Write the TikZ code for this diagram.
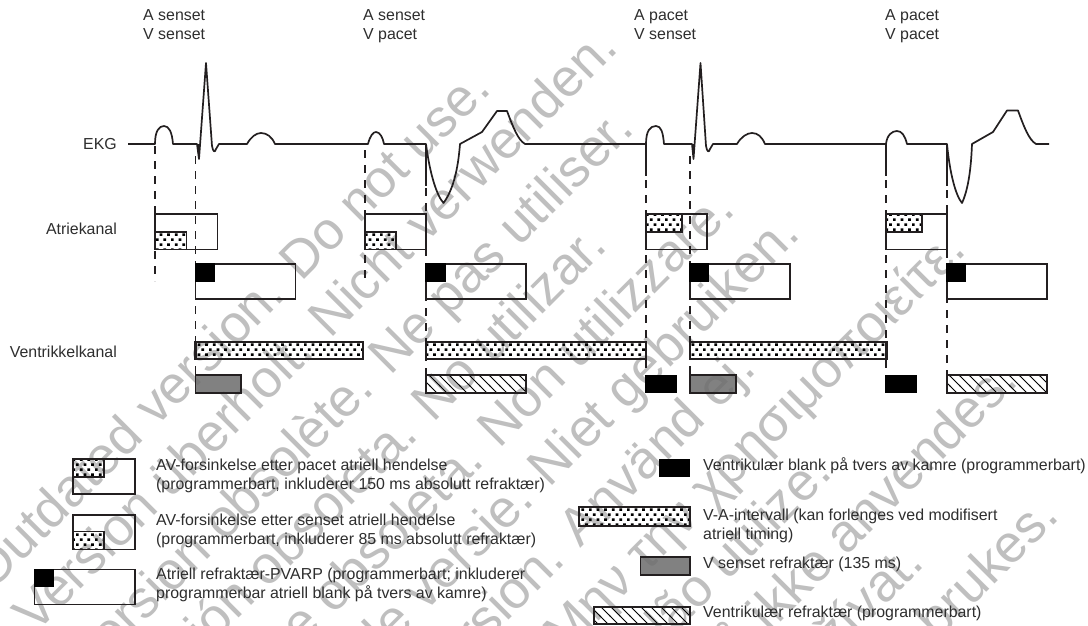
\documentclass[tikz,border=0pt]{standalone}
\usepackage{fontspec}
\setmainfont{Liberation Sans}
\usetikzlibrary{patterns}
\definecolor{ink}{HTML}{231F20}
\definecolor{txt}{HTML}{2E2E2E}
\definecolor{wmgray}{HTML}{BFBFBF}
\pgfdeclarepatternformonly{stip}{\pgfqpoint{-1pt}{-1pt}}{\pgfqpoint{7pt}{10pt}}{\pgfqpoint{7.6pt}{10pt}}{
  \pgfpathrectangle{\pgfqpoint{0pt}{0pt}}{\pgfqpoint{2.7pt}{2.7pt}}
  \pgfpathrectangle{\pgfqpoint{3.8pt}{5pt}}{\pgfqpoint{2.7pt}{2.7pt}}
  \pgfusepath{fill}}
\pgfdeclarepatternformonly{hatchlines}{\pgfqpoint{-1pt}{-1pt}}{\pgfqpoint{11pt}{11pt}}{\pgfqpoint{10pt}{10pt}}{
  \pgfsetlinewidth{0.8pt}
  \pgfpathmoveto{\pgfqpoint{-1pt}{11pt}}
  \pgfpathlineto{\pgfqpoint{11pt}{-1pt}}
  \pgfusepath{stroke}}
\tikzset{
  ecg/.style={line width=1.7pt,draw=ink,line join=round},
  guide/.style={line width=1.2pt,draw=ink,dash pattern=on 8pt off 7pt},
  box/.style={line width=1.2pt,draw=ink},
  stipbox/.style={line width=1.9pt,draw=ink,pattern=stip,pattern color=black},
  bar/.style={line width=2.1pt,draw=ink,pattern=stip,pattern color=black},
  graybar/.style={line width=1.6pt,draw=ink,fill=gray!85!black,fill opacity=.85},
  hatchbar/.style={line width=1.4pt,draw=ink,pattern=hatchlines,pattern color=black},
  solidblock/.style={fill=black,draw=none},
  lbl/.style={font=\fontsize{15.9}{19.2}\selectfont,text=txt,inner sep=0pt,align=left},
  wmark/.style={font=\fontsize{53}{53}\selectfont,text=wmgray,inner sep=0pt,rotate=45,anchor=base east},
}
\begin{document}
\begin{tikzpicture}[x=1pt,y=-1pt]
\useasboundingbox (0,0) rectangle (1088,626);
\fill[white] (0,0) rectangle (1088,626);
\begin{scope}
\clip (0,0) rectangle (1088,626);
\node[wmark] (w1) at (493,91) {Outdated version. Do not use.};
\node[wmark] (w2) at (620,50) {Version überholt. Nicht verwenden.};
\node[wmark] (w3) at (636,131) {Version obsolète. Ne pas utiliser.};
\node[wmark] (w4) at (609,248) {Versión obsoleta. No utilizar.};
\node[wmark] (w5) at (737,212) {Versione obsoleta. Non utilizzare.};
\node[wmark] (w6) at (802,236) {Verouderde versie. Niet gebruiken.};
\node[wmark] (w7) at (758,371) {Föråldrad version. Använd ej.};
\node[wmark] (w8) at (968,252) {Παλιά έκδοση. Μην την χρησιμοποιείτε.};
\node[wmark] (w9) at (834,475) {Versão obsoleta. Não utilize.};
\node[wmark] (w10) at (1020,383) {Forældet version. Må ikke anvendes.};
\node[wmark] (w11) at (1061,518) {Utdatert versjon. Skal ikke brukes.};
\node[wmark] (w12) at (926,565) {Zastaralá verze. Nepoužívat.};
\end{scope}

% guides
\coordinate (g1a) at (155,146); \coordinate (g1b) at (155,281);
\coordinate (g2a) at (195.5,156); \coordinate (g2b) at (195.5,375);
\coordinate (g3a) at (365,150); \coordinate (g3b) at (365,281);
\coordinate (g4a) at (426,188); \coordinate (g4b) at (426,375);
\coordinate (g5a) at (646,180); \coordinate (g5b) at (646,375);
\coordinate (g6a) at (690,156); \coordinate (g6b) at (690,375);
\coordinate (g7a) at (886,180); \coordinate (g7b) at (886,375);
\coordinate (g8a) at (947,190); \coordinate (g8b) at (947,375);
\foreach \g in {1,...,8} \draw[guide] (g\g a) -- (g\g b);

% ECG
\draw[ecg] (128,144) -- (155,144)
  .. controls (155,131) and (159,126) .. (164,126)
  .. controls (169,126) and (172,132) .. (173,144)
  -- (197,144) -- (199,159) -- (206,63) -- (212,146)
  .. controls (213,152) and (215,153) .. (216,149) -- (219,144)
  -- (247,144) .. controls (251,137) and (256,133) .. (261,133)
  .. controls (267,133) and (272,137) .. (275,144)
  -- (368,144) .. controls (370,136) and (373,132) .. (376,132)
  .. controls (380,132) and (383,138) .. (384,144)
  -- (426,144) .. controls (430,175) and (437,196) .. (443.5,203)
  .. controls (453,190) and (458,170) .. (460,144)
  -- (482,132) -- (497,111) -- (507,111)
  .. controls (513,127) and (518,140) .. (525,144)
  -- (646,144) .. controls (646,131) and (650,126) .. (656,126)
  .. controls (661,126) and (663,132) .. (664,144)
  -- (692,144) -- (693.5,159) -- (700.5,63) -- (706,146)
  .. controls (707,152) and (709,153) .. (710,149) -- (713,144)
  -- (737,144) .. controls (741,137) and (747,133) .. (752,133)
  .. controls (758,133) and (762,137) .. (765,144)
  -- (886,144) .. controls (887,135) and (892,131) .. (897,131)
  .. controls (902,131) and (905,136) .. (907,144)
  -- (947,144) .. controls (950,175) and (956,196) .. (962,203)
  .. controls (968,190) and (971,170) .. (972,144)
  -- (993,132) -- (1007,110.5) -- (1018,110.5)
  .. controls (1024,127) and (1029,140) .. (1036,144) -- (1049,144);
\draw[ecg] (199,144) -- (199,159);
\draw[ecg] (426,144) -- (426,186);
\draw[ecg] (646,144) -- (646,176);
\draw[ecg] (693.5,144) -- (693.5,159);
\draw[ecg] (886,144) -- (886,176);
\draw[ecg] (947,144) -- (947,186);

% Atrial channel
\draw[box] (155,214) rectangle (217.5,249.5);
\draw[stipbox] (155,232) rectangle (186.5,249.5);
\draw[box] (365,214) rectangle (426,249.5);
\draw[stipbox] (365,232) rectangle (396,249.5);
\draw[box] (646,214) rectangle (707,249.5);
\draw[stipbox] (646,214) rectangle (682,232);
\draw[box] (886,214) rectangle (947,249.5);
\draw[stipbox] (886,214) rectangle (922,232);

% PVARP
\foreach \a/\b/\c in {195.5/215/295.5,426/446/526,690/709/790,947/966/1047}{
  \draw[box] (\a,264) rectangle (\c,299);
  \fill[solidblock] (\a-.6,263.4) rectangle (\b,281.5);
}

% Ventricular channel
\draw[bar] (195.5,342) rectangle (363,359);
\draw[bar] (426,342) rectangle (646,359);
\draw[bar] (690,342) rectangle (886.5,359);
\draw[graybar] (195.5,375) rectangle (241,393);
\draw[graybar] (690,375) rectangle (736,393);
\draw[hatchbar] (426,375) rectangle (526,393);
\draw[hatchbar] (947,375) rectangle (1047,393);
\fill[solidblock] (645,375) rectangle (677,393);
\fill[solidblock] (885,375) rectangle (917,393);

% legend symbols
\draw[box] (73,459) rectangle (135,494);
\draw[stipbox] (73,459) rectangle (104,477);
\draw[box] (73,515) rectangle (135,549.5);
\draw[stipbox] (73,531.5) rectangle (104,549.5);
\draw[box] (34.5,569.5) rectangle (135,604.5);
\fill[solidblock] (34,569) rectangle (54,587);
\fill[solidblock] (659,459) rectangle (690,477);
\draw[bar] (579,507) rectangle (690,526);
\draw[graybar] (640.5,557) rectangle (690,575);
\draw[hatchbar] (594,607) rectangle (690,624);

% labels
\node[lbl,anchor=north west] (t1) at (143,9) {A senset\\V senset};
\node[lbl,anchor=north west] (t2) at (363,9) {A senset\\V pacet};
\node[lbl,anchor=north west] (t3) at (634,9) {A pacet\\V senset};
\node[lbl,anchor=north west] (t4) at (885,9) {A pacet\\V pacet};
\node[lbl,anchor=east] (ekg) at (117,144) {EKG};
\node[lbl,anchor=east] (atr) at (117,229) {Atriekanal};
\node[lbl,anchor=east] (ven) at (117,352) {Ventrikkelkanal};
\node[lbl,anchor=west] (l1) at (156,475.5) {AV-forsinkelse etter pacet atriell hendelse\\(programmerbart, inkluderer 150 ms absolutt refraktær)};
\node[lbl,anchor=west] (l2) at (156,530.5) {AV-forsinkelse etter senset atriell hendelse\\(programmerbart, inkluderer 85 ms absolutt refraktær)};
\node[lbl,anchor=west] (l3) at (156,585) {Atriell refraktær-PVARP (programmerbart; inkluderer\\programmerbar atriell blank på tvers av kamre)};
\node[lbl,anchor=west] (r1) at (703,466) {Ventrikulær blank på tvers av kamre (programmerbart)};
\node[lbl,anchor=west] (r2) at (703,525.5) {V-A-intervall (kan forlenges ved modifisert\\atriell timing)};
\node[lbl,anchor=west] (r3) at (703,564) {V senset refraktær (135 ms)};
\node[lbl,anchor=west] (r4) at (703,613) {Ventrikulær refraktær (programmerbart)};
\end{tikzpicture}
\end{document}
